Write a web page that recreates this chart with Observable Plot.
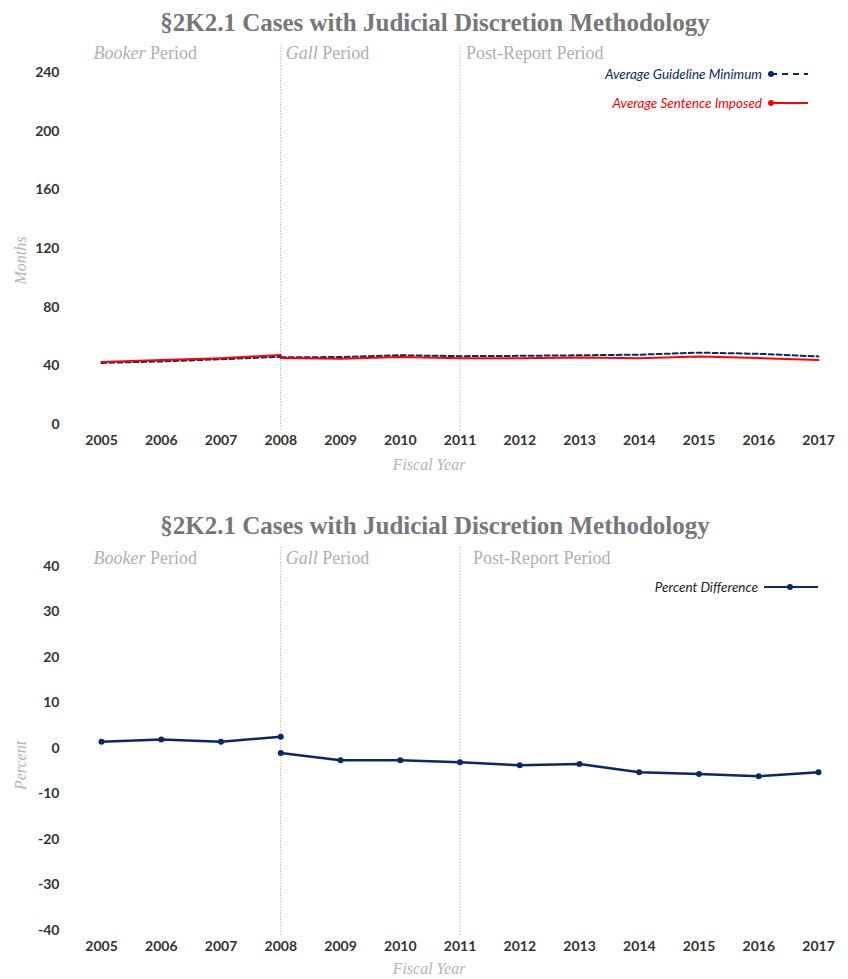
<!DOCTYPE html>
<html>
<head>
<meta charset="utf-8">
<script src="https://cdn.jsdelivr.net/npm/d3@7"></script>
<script src="https://cdn.jsdelivr.net/npm/@observablehq/plot@0.6"></script>
<style>
  body { margin: 0; background: #fff; }
  #wrap { position: relative; width: 848px; height: 979px; overflow: hidden; }
  .title { height: 44px; padding-top: 9px; line-height: 30px; font: bold 25px "Liberation Serif", serif; color: #777; text-align: center; padding-left: 22px; box-sizing: border-box; width: 848px; }
  .legend { position: absolute; font: italic 13.5px Lato, sans-serif; display: flex; align-items: center; white-space: nowrap; }
  .legend svg { margin-left: 4px; }
  svg { display: block; }
</style>
</head>
<body>
<div id="wrap"></div>
<script>
const chartTitle = "§2K2.1 Cases with Judicial Discretion Methodology";
const years = [2005, 2006, 2007, 2008, 2009, 2010, 2011, 2012, 2013, 2014, 2015, 2016, 2017];
const periodBreaks = [2008, 2011];
const periodNames = ["Booker Period", "Gall Period", "Post-Report Period"];
const periodStarts = [2005, 2008, 2011];

// Segment 1: Booker period (2005-2008); Segment 2: Gall + Post-Report (2008-2017)
const seg1Years = [2005, 2006, 2007, 2008];
const seg2Years = [2008, 2009, 2010, 2011, 2012, 2013, 2014, 2015, 2016, 2017];

const guidelineMinSeg1 = [42.0, 43.0, 44.5, 46.2];
const guidelineMinSeg2 = [45.8, 46.0, 47.2, 46.6, 46.8, 47.2, 47.6, 49.0, 48.2, 46.4];
const sentenceSeg1 = [42.6, 43.9, 45.2, 47.4];
const sentenceSeg2 = [45.3, 44.8, 46.0, 45.2, 45.1, 45.6, 45.1, 46.3, 45.3, 44.0];
const pctDiffSeg1 = [1.5, 2.0, 1.5, 2.6];
const pctDiffSeg2 = [-1.0, -2.6, -2.6, -3.0, -3.7, -3.4, -5.2, -5.6, -6.1, -5.2];

const monthTicks = [0, 40, 80, 120, 160, 200, 240];
const percentTicks = [-40, -30, -20, -10, 0, 10, 20, 30, 40];
const seriesNames = ["Average Guideline Minimum", "Average Sentence Imposed", "Percent Difference"];

const navy = "#0c2766";
const red = "#ff0000";

function rows(ys, vals, seg) { return ys.map((x, i) => ({x, v: vals[i], seg})); }
const minRows = [...rows(seg1Years, guidelineMinSeg1, 1), ...rows(seg2Years, guidelineMinSeg2, 2)];
const sentRows = [...rows(seg1Years, sentenceSeg1, 1), ...rows(seg2Years, sentenceSeg2, 2)];
const pctRows = [...rows(seg1Years, pctDiffSeg1, 1), ...rows(seg2Years, pctDiffSeg2, 2)];
const periods = periodNames.map((name, i) => ({name, start: periodStarts[i]}));

const tickStyle = {fontSize: 14, fontWeight: "bold", fill: "#333", fontFamily: "Lato, sans-serif"};

function common(yTicks, ruleTop, ruleBottom, periodDy, periodDx, yLabel, yLabelDy, xLabelDy) {
  return [
    Plot.ruleX(periodBreaks, {x: d => d, y1: ruleBottom, y2: ruleTop, stroke: "#b8b8b8", strokeWidth: 1, strokeDasharray: "1.5,1.5"}),
    Plot.axisX(years, {tickSize: 0, tickPadding: 11, tickFormat: d => String(d), label: null, ...tickStyle}),
    Plot.axisY(yTicks, {tickSize: 0, tickPadding: 42, tickFormat: d => String(d), label: null, ...tickStyle}),
    ...periods.map((p, i) => Plot.text([p], {x: "start", text: "name", frameAnchor: "top", dy: periodDy, dx: periodDx[i], textAnchor: "start", fontSize: 18, fill: "#b0b0b0", fontFamily: "Liberation Serif, serif"})),
    Plot.text([yLabel], {text: d => d, frameAnchor: "left", textAnchor: "middle", dx: -81, dy: yLabelDy, rotate: -90, fontSize: 16, fontStyle: "italic", fill: "#b5b5b5", fontFamily: "Liberation Serif, serif"}),
    Plot.text(["Fiscal Year"], {text: d => d, frameAnchor: "bottom", dx: -31, dy: xLabelDy, fontSize: 16, fontStyle: "italic", fill: "#b5b5b5", fontFamily: "Liberation Serif, serif"})
  ];
}

function italicize(svg) {
  svg.querySelectorAll("text").forEach(t => {
    const s = t.textContent;
    for (const w of ["Booker", "Gall"]) {
      if (s === w + " Period") {
        t.textContent = "";
        const ns = "http://www.w3.org/2000/svg";
        const a = document.createElementNS(ns, "tspan"); a.setAttribute("font-style", "italic"); a.textContent = w;
        const b = document.createElementNS(ns, "tspan"); b.textContent = " Period";
        t.appendChild(a); t.appendChild(b);
      }
    }
  });
}

const wrap = document.getElementById("wrap");

// Chart 1
const t1 = document.createElement("div"); t1.className = "title"; t1.textContent = chartTitle; wrap.appendChild(t1);
const chart1 = Plot.plot({
  width: 848, height: 459, marginTop: 28, marginLeft: 101, marginRight: 30, marginBottom: 79,
  x: {domain: [2005, 2017]},
  y: {domain: [0, 240]},
  marks: [
    ...common(monthTicks, 258.5, -4, -26, [-8, 5, 6], "Months", 12, 45),
    Plot.line(minRows, {x: "x", y: "v", z: "seg", stroke: navy, strokeWidth: 2, strokeDasharray: "5,3"}),
    Plot.line(sentRows, {x: "x", y: "v", z: "seg", stroke: red, strokeWidth: 2})
  ]
});
italicize(chart1);
wrap.appendChild(chart1);

// Chart 2
const t2 = document.createElement("div"); t2.className = "title"; t2.textContent = chartTitle; wrap.appendChild(t2);
const chart2 = Plot.plot({
  width: 848, height: 432, marginTop: 19, marginLeft: 101, marginRight: 30, marginBottom: 49,
  x: {domain: [2005, 2017]},
  y: {domain: [-40, 40]},
  marks: [
    ...common(percentTicks, 44.2, -41.1, -15, [-8, 5, 13], "Percent", 17, 43),
    Plot.line(pctRows, {x: "x", y: "v", z: "seg", stroke: navy, strokeWidth: 2.5}),
    Plot.dot(pctRows, {x: "x", y: "v", r: 3, fill: navy})
  ]
});
italicize(chart2);
wrap.appendChild(chart2);

// Legends
function legend(name, color, textColor, right, top, swatchW, dotX, dash) {
  const d = document.createElement("div");
  d.className = "legend";
  d.style.right = right + "px"; d.style.top = top + "px"; d.style.color = textColor;
  const span = document.createElement("span"); span.textContent = name; d.appendChild(span);
  d.insertAdjacentHTML("beforeend",
    `<svg width="${swatchW}" height="10"><line x1="${dotX}" x2="${swatchW}" y1="5" y2="5" stroke="${color}" stroke-width="2" ${dash ? `stroke-dasharray="${dash}"` : ""}/><circle cx="${dotX}" cy="5" r="3" fill="${color}"/></svg>`);
  wrap.appendChild(d);
}
legend(seriesNames[0], navy, navy, 40, 66, 42, 5, "6,5");
legend(seriesNames[1], red, red, 40, 95, 42, 5, null);
{
  const d = document.createElement("div");
  d.className = "legend";
  d.style.right = "28px"; d.style.top = "579px"; d.style.color = "#222";
  const span = document.createElement("span"); span.textContent = seriesNames[2]; d.appendChild(span);
  d.insertAdjacentHTML("beforeend",
    `<svg width="58" height="10"><line x1="2" x2="56" y1="5" y2="5" stroke="${navy}" stroke-width="2"/><circle cx="28" cy="5" r="3" fill="${navy}"/></svg>`);
  wrap.appendChild(d);
}
</script>
</body>
</html>
